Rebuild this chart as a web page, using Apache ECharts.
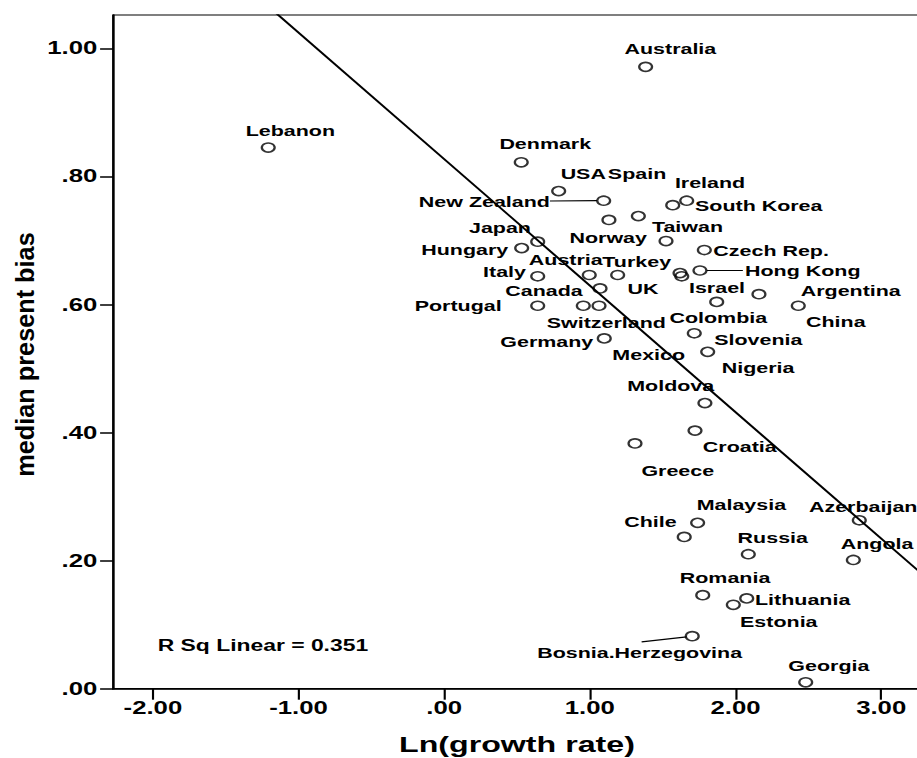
<!DOCTYPE html>
<html>
<head>
<meta charset="utf-8">
<script src="https://cdn.jsdelivr.net/npm/echarts@6/dist/echarts.min.js"></script>
<style>
  html, body { margin: 0; padding: 0; overflow: hidden; background: #fff; width: 917px; height: 758px; }
  /* the chart is laid out narrow and widened horizontally, giving the wide SPSS-style lettering and oval markers */
  #chart { position: absolute; left: 0; top: 0; width: 642px; height: 758px; transform: scaleX(1.43); transform-origin: 0 0; }
</style>
</head>
<body>
<div id="chart"></div>
<script>
// ---- data ----
const countries = ['Lebanon', 'Australia', 'Denmark', 'USA', 'Spain', 'Ireland', 'South Korea', 'New Zealand',
  'Norway', 'Taiwan', 'Japan', 'Hungary', 'Czech Rep.', 'Italy', 'Austria', 'Turkey', 'Hong Kong', 'Canada',
  'UK', 'Portugal', 'Switzerland', 'Germany', 'Israel', 'Argentina', 'China', 'Colombia', 'Slovenia', 'Mexico',
  'Nigeria', 'Moldova', 'Croatia', 'Greece', 'Malaysia', 'Chile', 'Azerbaijan', 'Angola', 'Russia', 'Romania',
  'Lithuania', 'Estonia', 'Bosnia.Herzegovina', 'Georgia'];

const lnGrowthRate = [-1.208, 1.383, 0.529, 0.786, 1.333, 1.569, 1.665, 1.095,
  1.131, 1.523, 0.642, 0.532, 1.786, 0.642, 0.996, 1.191, 1.756, 1.070,
  1.063, 0.642, 0.955, 1.099, 1.871, 2.161, 2.431, 1.717, 1.809, 1.619,
  1.631, 1.790, 1.722, 1.310, 1.740, 1.648, 2.850, 2.809, 2.088, 1.775,
  2.077, 1.985, 1.703, 2.482];

const medianPresentBias = [0.845, 0.971, 0.822, 0.777, 0.738, 0.755, 0.762, 0.762,
  0.732, 0.699, 0.698, 0.688, 0.685, 0.644, 0.646, 0.646, 0.653, 0.625,
  0.598, 0.598, 0.598, 0.547, 0.604, 0.616, 0.598, 0.555, 0.526, 0.649,
  0.644, 0.446, 0.403, 0.383, 0.259, 0.237, 0.263, 0.201, 0.210, 0.146,
  0.141, 0.131, 0.082, 0.010];

const xTicks = [-2, -1, 0, 1, 2, 3];
const yTicks = [0, 0.2, 0.4, 0.6, 0.8, 1.0];
const xRange = [-2.274, 3.273];
const yRange = [0, 1.052];

// linear fit of present bias on ln(growth rate)
const fitIntercept = 0.827;
const fitSlope = -0.1975;
const rSquared = 0.351;

// ---- label placement (px from the marker centre: dx, dy, alignment) ----
const labelPlacement = {
  'Lebanon': [15.5, -17.3, 'center'],
  'Australia': [17.3, -17.7, 'center'],
  'Denmark': [16.8, -18.3, 'center'],
  'USA': [17.2, -17, 'center'],
  'Spain': [-0.9, -42, 'center'],
  'Ireland': [26.1, -22, 'center'],
  'South Korea': [5.8, 5.3, 'left'],
  'New Zealand': [-37.6, 1.3, 'right'],
  'Norway': [-0.5, 17.5, 'center'],
  'Taiwan': [15, -14, 'center'],
  'Japan': [-26.4, -13.7, 'center'],
  'Hungary': [-9.4, 1.7, 'right'],
  'Czech Rep.': [6.3, 0.5, 'left'],
  'Italy': [-8.2, -5, 'right'],
  'Austria': [-16.4, -15.5, 'center'],
  'Turkey': [13.3, -13, 'center'],
  'Hong Kong': [31.5, 0, 'left'],
  'Canada': [-12.1, 2.7, 'right'],
  'UK': [30.8, -17, 'center'],
  'Portugal': [-25.2, 0, 'right'],
  'Switzerland': [16.1, 17, 'center'],
  'Germany': [-7.7, 3.7, 'right'],
  'Israel': [0.2, -14, 'center'],
  'Argentina': [29.2, -3, 'left'],
  'China': [5.4, 15.7, 'left'],
  'Colombia': [16.8, -15.3, 'center'],
  'Slovenia': [4.6, -12.2, 'left'],
  'Mexico': [-21.9, 81.7, 'center'],
  'Nigeria': [53.4, 91, 'center'],
  'Moldova': [-23.9, -17.8, 'center'],
  'Croatia': [31.3, 16.3, 'center'],
  'Greece': [29.9, 27.2, 'center'],
  'Malaysia': [30.6, -17.7, 'center'],
  'Chile': [-5.3, -14.7, 'right'],
  'Azerbaijan': [-35.2, -14, 'left'],
  'Angola': [16.6, -16.5, 'center'],
  'Russia': [17.1, -16.8, 'center'],
  'Romania': [15.6, -17.5, 'center'],
  'Lithuania': [5.8, 1.7, 'left'],
  'Estonia': [31.8, 16.5, 'center'],
  'Bosnia.Herzegovina': [-36.8, 16.5, 'center'],
  'Georgia': [16.2, -16.8, 'center']
};

// leader lines joining a displaced label to its marker: x1, y1, x2, y2 relative to the marker
const leaderLines = {
  'New Zealand': [-37.6, 0.3, -4.7, 0],
  'Hong Kong': [4.7, 0, 30, 0],
  'Bosnia.Herzegovina': [-35.4, 5.7, -3.9, 0.7]
};

// ---- helpers ----
const FONT = '"Liberation Sans", Arial, sans-serif';
function tickText(v) {
  const s = Math.abs(v).toFixed(2).replace(/^0/, '');
  return (v < 0 ? '-' : '') + s;
}

const points = countries.map((c, i) => [lnGrowthRate[i], medianPresentBias[i]]);
const fitLine = xRange.map(x => [x, fitIntercept + fitSlope * x]);

const chart = echarts.init(document.getElementById('chart'), null, { renderer: 'svg' });

chart.setOption({
  animation: false,
  backgroundColor: '#fff',
  grid: {
    left: 79, right: -2, top: 15, bottom: 69.3,
    show: true, borderColor: '#000', borderWidth: 1.2,
    containLabel: false, outerBoundsMode: 'none'
  },
  xAxis: {
    type: 'value',
    min: xRange[0], max: xRange[1],
    name: 'Ln(growth rate)',
    nameLocation: 'middle',
    nameGap: 44,
    nameMoveOverlap: false,
    nameTextStyle: { color: '#000', fontFamily: FONT, fontWeight: 'bold', fontSize: 22.5 },
    axisLine: { show: true, onZero: false, lineStyle: { color: '#000', width: 1.5 } },
    axisTick: { show: true, customValues: xTicks, length: 11, lineStyle: { color: '#000', width: 1.5 } },
    axisLabel: { customValues: xTicks, formatter: tickText, margin: 10, color: '#000',
      fontFamily: FONT, fontWeight: 'bold', fontSize: 18 },
    splitLine: { show: false }
  },
  yAxis: {
    type: 'value',
    min: yRange[0], max: yRange[1],
    axisLine: { show: true, onZero: false, lineStyle: { color: '#000', width: 1.4 } },
    axisTick: { show: true, customValues: yTicks, length: 9, lineStyle: { color: '#000', width: 1.5 } },
    axisLabel: { customValues: yTicks, formatter: tickText, margin: 11, color: '#000',
      fontFamily: FONT, fontWeight: 'bold', fontSize: 18 },
    splitLine: { show: false }
  },
  graphic: [
    {
      // vertical axis title
      type: 'text',
      x: 17.2, y: 354.5,
      rotation: Math.PI / 2,
      scaleX: 1.42,
      style: { text: 'median present bias', fill: '#000', font: 'bold 17.8px ' + FONT,
        align: 'center', verticalAlign: 'middle', textAlign: 'center', textVerticalAlign: 'middle' }
    },
    {
      type: 'text',
      x: 110.3, y: 645.5,
      style: { text: 'R Sq Linear = ' + rSquared.toFixed(3), fill: '#000', font: 'bold 16px ' + FONT,
        align: 'left', verticalAlign: 'middle', textAlign: 'left', textVerticalAlign: 'middle' }
    }
  ],
  series: [
    {
      name: 'countries',
      type: 'scatter',
      data: points,
      symbol: 'circle',
      symbolSize: 9,
      itemStyle: { color: 'rgba(0,0,0,0)', borderColor: '#000', borderWidth: 1.6 },
      silent: true,
      z: 2
    },
    {
      name: 'fit',
      type: 'line',
      data: fitLine,
      symbol: 'none',
      clip: true,
      lineStyle: { color: '#000', width: 1.7 },
      silent: true,
      z: 3
    },
    {
      name: 'country labels',
      type: 'custom',
      data: points,
      silent: true,
      z: 4,
      renderItem(params, api) {
        const name = countries[params.dataIndex];
        const p = api.coord([api.value(0), api.value(1)]);
        const [dx, dy, align] = labelPlacement[name];
        const children = [{
          type: 'text',
          x: p[0] + dx, y: p[1] + dy,
          style: { text: name, fill: '#000', font: 'bold 15px ' + FONT,
            align: align, verticalAlign: 'middle', textAlign: align, textVerticalAlign: 'middle' }
        }];
        const l = leaderLines[name];
        if (l) {
          children.push({
            type: 'line',
            shape: { x1: p[0] + l[0], y1: p[1] + l[1], x2: p[0] + l[2], y2: p[1] + l[3] },
            style: { stroke: '#000', lineWidth: 1.2 }
          });
        }
        return { type: 'group', children };
      }
    }
  ]
});
</script>
</body>
</html>
